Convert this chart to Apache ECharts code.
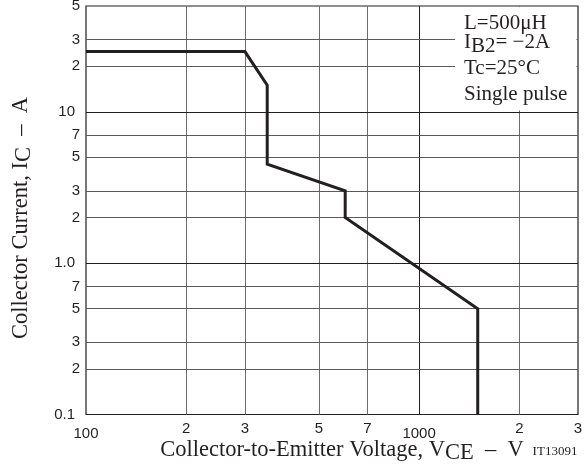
<!DOCTYPE html>
<html><head><meta charset="utf-8">
<script src="https://cdn.jsdelivr.net/npm/echarts@6/dist/echarts.min.js"></script>
<style>html,body{margin:0;padding:0;background:#fff}#c{width:588px;height:467px}</style>
</head><body><div id="c"></div>
<script>
// ---- data ----
const vce = [100, 300, 350, 350, 600, 600, 1500, 1500];
const ic  = [25, 25, 15, 4.5, 3, 2, 0.5, 0.1];
const xGridMinor = [200, 300, 500, 700, 2000];
const xGridMajor = [1000];
const yGridMinor = [0.2, 0.3, 0.5, 0.7, 2, 3, 5, 7, 20, 30];
const yGridMajor = [1, 10];
const xTickValues = [100, 200, 300, 500, 700, 1000, 2000, 3000];
const xTickLabels = ['100', '2', '3', '5', '7', '1000', '2', '3'];
const xTickMajor  = [true, false, false, false, false, true, false, false];
const yTickValues = [0.1, 0.2, 0.3, 0.5, 0.7, 1, 2, 3, 5, 7, 10, 20, 30, 50];
const yTickLabels = ['0.1', '2', '3', '5', '7', '1.0', '2', '3', '5', '7', '10', '2', '3', '5'];
const yTickMajor  = [true, false, false, false, false, true, false, false, false, false, true, false, false, false];
const xTitle = 'Collector-to-Emitter Voltage, V';
const xTitleSub = 'CE';
const yTitle = 'Collector Current, I';
const yTitleSub = 'C';
const conditions = ['L=500μH', 'I|B2|= −2A', 'Tc=25°C', 'Single pulse'];
const figId = 'IT13091';

// ---- chart ----
const INK = '#231f20';
const SANS = '"Liberation Sans", Arial, sans-serif';
const SERIF = '"Liberation Serif", "Times New Roman", serif';

const chart = echarts.init(document.getElementById('c'), null, {renderer: 'canvas'});

const gridLines = []
  .concat(xGridMinor.map(v => ({xAxis: v, lineStyle: {color: '#6d6d6d', width: 1, type: 'solid'}})))
  .concat(xGridMajor.map(v => ({xAxis: v, lineStyle: {color: INK, width: 1, type: 'solid'}})))
  .concat(yGridMinor.map(v => ({yAxis: v, lineStyle: {color: '#5a5a5a', width: 1, type: 'solid'}})))
  .concat(yGridMajor.map(v => ({yAxis: v, lineStyle: {color: INK, width: 1, type: 'solid'}})));

const labelStyle = {show: true, position: 'start', color: INK, fontSize: 15, fontFamily: SANS};
const tickLabelLines = []
  .concat(xTickValues.map((v, i) => ({
    xAxis: v,
    lineStyle: {color: 'rgba(255,255,255,0)', width: 1, type: 'solid'},
    label: Object.assign({}, labelStyle, {formatter: xTickLabels[i], distance: xTickMajor[i] ? 12 : 7})
  })))
  .concat(yTickValues.map((v, i) => ({
    yAxis: v,
    lineStyle: {color: 'rgba(255,255,255,0)', width: 1, type: 'solid'},
    label: Object.assign({}, labelStyle, {formatter: yTickLabels[i], distance: yTickMajor[i] ? 11 : 6})
  })));

function richSub(main, sub, tail) {
  return '{n|' + main + '}{s|' + sub + '}{n|' + tail + '}';
}

const condGraphics = [];
const condTops = [13, 32, 58, 84];
conditions.forEach((t, i) => {
  const parts = t.split('|');
  const txt = parts.length === 3 ? richSub(parts[0], parts[1], parts[2]) : '{n|' + t + '}';
  condGraphics.push({
    type: 'text', x: 464, y: condTops[i], z: 101,
    style: {
      text: txt, fill: INK, align: 'left', verticalAlign: 'top',
      rich: {
        n: {font: '21px ' + SERIF, fill: INK, verticalAlign: 'top'},
        s: {font: '21px ' + SERIF, fill: INK, verticalAlign: 'top', padding: [4, 0, 0, 0]}
      }
    }
  });
});

const option = {
  animation: false,
  backgroundColor: '#ffffff',
  grid: {left: 86, top: 6, width: 492, height: 408.5, show: true, borderColor: INK, borderWidth: 1.2, backgroundColor: 'transparent'},
  xAxis: {
    type: 'log', logBase: 10, min: 100, max: 3000,
    axisLine: {show: false}, axisTick: {show: false}, axisLabel: {show: false}, splitLine: {show: false}
  },
  yAxis: {
    type: 'log', logBase: 10, min: 0.1, max: 50,
    axisLine: {show: false}, axisTick: {show: false}, axisLabel: {show: false}, splitLine: {show: false}
  },
  series: [
    {
      type: 'line', data: [], z: 1, silent: true,
      markLine: {silent: true, symbol: ['none', 'none'], label: {show: false}, data: gridLines}
    },
    {
      type: 'line', data: [], z: 1, silent: true,
      markLine: {
        silent: true, symbol: ['none', 'none'],
        label: labelStyle,
        data: tickLabelLines
      }
    },
    {
      type: 'line', z: 5, symbol: 'none', silent: true,
      data: vce.map((v, i) => [v, ic[i]]),
      lineStyle: {color: INK, width: 3, join: 'miter'}
    }
  ],
  graphic: [
    {type: 'rect', shape: {x: 455, y: 7, width: 121.5, height: 103.5}, style: {fill: '#ffffff'}, z: 100, silent: true}
  ].concat(condGraphics).concat([
    {
      type: 'text', x: 342, y: 452, z: 101,
      style: {
        text: richSub(xTitle, xTitleSub, '  –  V'), fill: INK, align: 'center', verticalAlign: 'middle',
        rich: {
          n: {font: '22.5px ' + SERIF, fill: INK, verticalAlign: 'top'},
          s: {font: '22.5px ' + SERIF, fill: INK, verticalAlign: 'top', padding: [3, 0, 0, 0]}
        }
      }
    },
    {
      type: 'text', x: 555, y: 452, z: 101,
      style: {text: figId, font: '13px ' + SERIF, fill: INK, align: 'center', verticalAlign: 'middle'}
    },
    {
      type: 'text', x: 23, y: 218, z: 101, rotation: Math.PI / 2,
      style: {
        text: richSub(yTitle, yTitleSub, '  –  A'), fill: INK, align: 'center', verticalAlign: 'middle',
        rich: {
          n: {font: '22.5px ' + SERIF, fill: INK, verticalAlign: 'top'},
          s: {font: '22.5px ' + SERIF, fill: INK, verticalAlign: 'top', padding: [3, 0, 0, 0]}
        }
      }
    }
  ])
};
chart.setOption(option);
</script>
</body></html>
